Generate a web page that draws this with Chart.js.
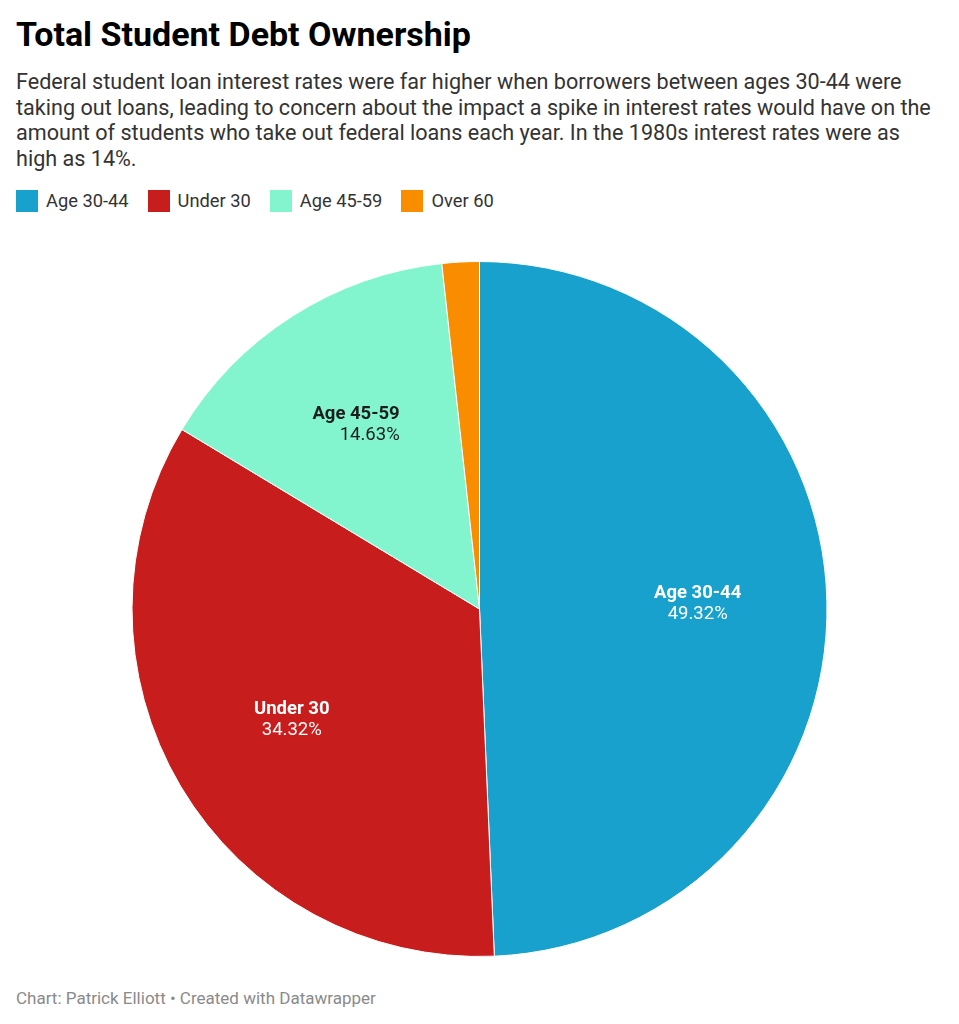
<!DOCTYPE html>
<html>
<head>
<meta charset="utf-8">
<script src="https://cdn.jsdelivr.net/npm/chart.js@4.4.0/dist/chart.umd.min.js"></script>
<style>
    body { margin: 0; background: #fff; font-family: Roboto, sans-serif; width: 959px; height: 1024px; position: relative; overflow: hidden; }
    #title { position: absolute; left: 16px; top: 14px; font-size: 34px; font-weight: 700; color: #000; line-height: 40px; }
    #desc { position: absolute; left: 16px; top: 69px; width: 925px; font-size: 21.6px; line-height: 25.5px; color: #333; }
    #legend { position: absolute; left: 16px; top: 190px; display: flex; font-size: 18.3px; color: #333; line-height: 22px; }
    .item { display: flex; align-items: center; margin-right: 19px; }
    .box { width: 22px; height: 22px; margin-right: 8px; }
    #wrap { position: absolute; left: 0; top: 261px; width: 959px; height: 696px; }
    #footer { position: absolute; left: 16px; top: 988px; font-size: 17px; line-height: 20px; color: #8a8a8a; }
</style>
</head>
<body>
<div id="title">Total Student Debt Ownership</div>
<div id="desc">Federal student loan interest rates were far higher when borrowers between ages 30-44 were taking out loans, leading to concern about the impact a spike in interest rates would have on the amount of students who take out federal loans each year. In the 1980s interest rates were as high as 14%.</div>
<div id="legend"></div>
<div id="wrap"><canvas id="pie"></canvas></div>
<div id="footer">Chart: Patrick Elliott • Created with Datawrapper</div>

<script>
// data
const labels = ["Age 30-44", "Under 30", "Age 45-59", "Over 60"];
const shares = [49.32, 34.32, 14.63, 1.73];
const colors = ["#18a1cd", "#c71e1d", "#82f5cf", "#fa8c00"];
const labelColors = ["#fff", "#fff", "#1d1d1d", null]; // null = no label

// html legend
const legend = document.getElementById("legend");
labels.forEach((l, i) => {
    const item = document.createElement("div");
    item.className = "item";
    item.innerHTML = '<div class="box" style="background:' + colors[i] + '"></div>' + l;
    legend.appendChild(item);
});

// labels inside the slices
const sliceLabels = {
    id: "sliceLabels",
    afterDatasetsDraw(chart) {
        const ctx = chart.ctx;
        const arcs = chart.getDatasetMeta(0).data;
        arcs.forEach((arc, i) => {
            if (!labelColors[i]) return;
            const p = arc.getProps(["x", "y", "startAngle", "endAngle", "outerRadius"], true);
            const mid = (p.startAngle + p.endAngle) / 2;
            const r = p.outerRadius * 0.628;
            let x = p.x + Math.cos(mid) * r;
            const y = p.y + Math.sin(mid) * r;
            const pct = shares[i].toFixed(2) + "%";
            ctx.save();
            ctx.fillStyle = labelColors[i];
            ctx.textBaseline = "middle";
            ctx.font = "bold 18.5px Roboto";
            const w = ctx.measureText(labels[i]).width;
            // upper-left slice: right-align the block
            if (Math.cos(mid) < 0 && Math.sin(mid) < 0) {
                ctx.textAlign = "right";
                x = x + w / 2 - 6;
            } else {
                ctx.textAlign = "center";
            }
            ctx.fillText(labels[i], x, y - 10.5);
            ctx.font = "18.5px Roboto";
            ctx.fillText(pct, x, y + 10.5);
            ctx.restore();
        });
    }
};

new Chart(document.getElementById("pie"), {
    type: "pie",
    data: {
        labels: labels,
        datasets: [{
            data: shares,
            backgroundColor: colors,
            borderColor: "#fff",
            borderWidth: 1
        }]
    },
    options: {
        responsive: true,
        maintainAspectRatio: false,
        animation: false,
        layout: { padding: 0 },
        plugins: {
            legend: { display: false },
            tooltip: { enabled: false }
        }
    },
    plugins: [sliceLabels]
});
</script>
</body>
</html>
